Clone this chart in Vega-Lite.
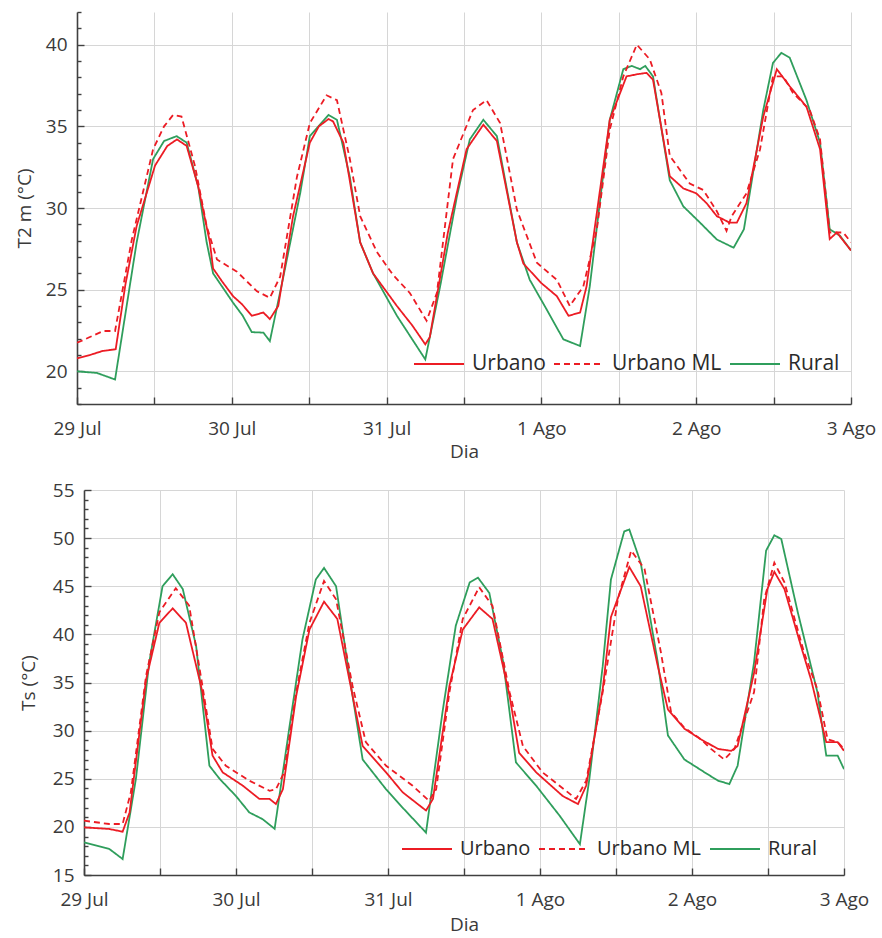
{
  "$schema": "https://vega.github.io/schema/vega-lite/v6.json",
  "background": "white",
  "padding": {"left": 9, "top": 3, "right": 2, "bottom": 0},
  "spacing": 20,
  "config": {
    "font": "Open Sans",
    "view": {"stroke": null},
    "axis": {
      "labelFont": "Open Sans",
      "titleFont": "Open Sans",
      "labelFontSize": 19,
      "titleFontSize": 19,
      "titleFontWeight": "normal",
      "labelColor": "#3a3a3a",
      "titleColor": "#3a3a3a",
      "domainColor": "#404040",
      "domainWidth": 1.6,
      "tickColor": "#404040",
      "tickWidth": 1.4,
      "gridColor": "#d6d6d6",
      "gridWidth": 1,
      "labelOverlap": false,
      "labelBound": false,
      "labelFlush": false
    },
    "legend": {
      "labelFont": "Open Sans",
      "labelFontSize": 21,
      "labelColor": "#2a2a2a",
      "symbolType": "stroke",
      "symbolSize": 2500,
      "symbolStrokeWidth": 2,
      "labelOffset": 7,
      "columnPadding": 4,
      "padding": 0
    }
  },
  "resolve": {
    "scale": {"color": "independent", "strokeDash": "independent"},
    "legend": {"color": "independent", "strokeDash": "independent"}
  },
  "datasets": {
    "t2m": [
      {"h":0,"serie":"Rural","v":20.0},{"h":3.1,"serie":"Rural","v":19.9},{"h":5.9,"serie":"Rural","v":19.5},{"h":9.25,"serie":"Rural","v":27.9},{"h":11.8,"serie":"Rural","v":33.0},{"h":13.5,"serie":"Rural","v":34.1},{"h":15.45,"serie":"Rural","v":34.4},{"h":17,"serie":"Rural","v":34.0},{"h":18.8,"serie":"Rural","v":31.3},{"h":20.1,"serie":"Rural","v":27.9},{"h":21.1,"serie":"Rural","v":26.0},{"h":24.2,"serie":"Rural","v":24.2},{"h":25.7,"serie":"Rural","v":23.4},{"h":27.1,"serie":"Rural","v":22.4},{"h":28.9,"serie":"Rural","v":22.37},{"h":29.9,"serie":"Rural","v":21.85},{"h":32.0,"serie":"Rural","v":25.8},{"h":34.6,"serie":"Rural","v":30.9},{"h":36.1,"serie":"Rural","v":34.4},{"h":39.0,"serie":"Rural","v":35.7},{"h":40.3,"serie":"Rural","v":35.4},{"h":42.3,"serie":"Rural","v":31.9},{"h":43.9,"serie":"Rural","v":27.9},{"h":45.9,"serie":"Rural","v":26.0},{"h":49.6,"serie":"Rural","v":23.4},{"h":54.0,"serie":"Rural","v":20.73},{"h":56.3,"serie":"Rural","v":25.2},{"h":58.9,"serie":"Rural","v":30.7},{"h":60.9,"serie":"Rural","v":34.2},{"h":63.0,"serie":"Rural","v":35.4},{"h":65.1,"serie":"Rural","v":34.4},{"h":68.2,"serie":"Rural","v":27.9},{"h":70.2,"serie":"Rural","v":25.6},{"h":72.8,"serie":"Rural","v":23.8},{"h":75.4,"serie":"Rural","v":21.96},{"h":78.0,"serie":"Rural","v":21.55},{"h":79.5,"serie":"Rural","v":25.2},{"h":82.6,"serie":"Rural","v":35.4},{"h":84.7,"serie":"Rural","v":38.5},{"h":86.0,"serie":"Rural","v":38.7},{"h":87.3,"serie":"Rural","v":38.5},{"h":88.1,"serie":"Rural","v":38.7},{"h":89.3,"serie":"Rural","v":38.06},{"h":91.9,"serie":"Rural","v":31.7},{"h":94.0,"serie":"Rural","v":30.1},{"h":96.6,"serie":"Rural","v":29.1},{"h":99.2,"serie":"Rural","v":28.07},{"h":101.8,"serie":"Rural","v":27.57},{"h":103.4,"serie":"Rural","v":28.7},{"h":106.4,"serie":"Rural","v":36.0},{"h":107.9,"serie":"Rural","v":38.88},{"h":109.2,"serie":"Rural","v":39.5},{"h":110.5,"serie":"Rural","v":39.2},{"h":113.1,"serie":"Rural","v":36.6},{"h":115.2,"serie":"Rural","v":34.0},{"h":116.7,"serie":"Rural","v":28.7},{"h":118.3,"serie":"Rural","v":28.3},{"h":120,"serie":"Rural","v":27.4},

      {"h":0,"serie":"Urbano","v":20.8},{"h":2,"serie":"Urbano","v":21.0},{"h":4,"serie":"Urbano","v":21.25},{"h":6,"serie":"Urbano","v":21.35},{"h":7.5,"serie":"Urbano","v":25.3},{"h":9.25,"serie":"Urbano","v":28.9},{"h":12.1,"serie":"Urbano","v":32.6},{"h":14,"serie":"Urbano","v":33.8},{"h":15.5,"serie":"Urbano","v":34.2},{"h":17,"serie":"Urbano","v":33.8},{"h":18.8,"serie":"Urbano","v":31.3},{"h":20.6,"serie":"Urbano","v":27.9},{"h":21.1,"serie":"Urbano","v":26.3},{"h":22.5,"serie":"Urbano","v":25.5},{"h":24.2,"serie":"Urbano","v":24.6},{"h":25.6,"serie":"Urbano","v":24.1},{"h":27.1,"serie":"Urbano","v":23.4},{"h":28.9,"serie":"Urbano","v":23.6},{"h":29.9,"serie":"Urbano","v":23.2},{"h":31.2,"serie":"Urbano","v":24.0},{"h":33.5,"serie":"Urbano","v":29.5},{"h":36.1,"serie":"Urbano","v":34.0},{"h":37.5,"serie":"Urbano","v":35.0},{"h":39.0,"serie":"Urbano","v":35.45},{"h":39.7,"serie":"Urbano","v":35.3},{"h":41.3,"serie":"Urbano","v":34.0},{"h":43.9,"serie":"Urbano","v":27.9},{"h":45.9,"serie":"Urbano","v":26.0},{"h":49.6,"serie":"Urbano","v":24.0},{"h":52,"serie":"Urbano","v":22.8},{"h":54,"serie":"Urbano","v":21.65},{"h":54.7,"serie":"Urbano","v":22.1},{"h":57.5,"serie":"Urbano","v":28.5},{"h":60.4,"serie":"Urbano","v":33.6},{"h":63,"serie":"Urbano","v":35.1},{"h":65.1,"serie":"Urbano","v":34.1},{"h":68.2,"serie":"Urbano","v":27.9},{"h":69.2,"serie":"Urbano","v":26.6},{"h":72,"serie":"Urbano","v":25.4},{"h":74.4,"serie":"Urbano","v":24.6},{"h":76.2,"serie":"Urbano","v":23.4},{"h":78,"serie":"Urbano","v":23.6},{"h":79,"serie":"Urbano","v":25.2},{"h":79.5,"serie":"Urbano","v":26.6},{"h":82.6,"serie":"Urbano","v":35.4},{"h":85.2,"serie":"Urbano","v":38.06},{"h":87,"serie":"Urbano","v":38.2},{"h":88.3,"serie":"Urbano","v":38.27},{"h":89.3,"serie":"Urbano","v":37.86},{"h":91.9,"serie":"Urbano","v":31.95},{"h":94,"serie":"Urbano","v":31.2},{"h":96,"serie":"Urbano","v":30.9},{"h":97.6,"serie":"Urbano","v":30.3},{"h":99.2,"serie":"Urbano","v":29.5},{"h":101.2,"serie":"Urbano","v":29.1},{"h":102.3,"serie":"Urbano","v":29.1},{"h":103.8,"serie":"Urbano","v":30.3},{"h":106.4,"serie":"Urbano","v":35.6},{"h":108.5,"serie":"Urbano","v":38.5},{"h":110.5,"serie":"Urbano","v":37.45},{"h":113.1,"serie":"Urbano","v":36.2},{"h":115.2,"serie":"Urbano","v":33.6},{"h":116.7,"serie":"Urbano","v":28.1},{"h":117.8,"serie":"Urbano","v":28.5},{"h":120,"serie":"Urbano","v":27.4},

      {"h":0,"serie":"Urbano ML","v":21.75},{"h":2,"serie":"Urbano ML","v":22.1},{"h":4.1,"serie":"Urbano ML","v":22.47},{"h":5.9,"serie":"Urbano ML","v":22.47},{"h":8.5,"serie":"Urbano ML","v":28.07},{"h":11.8,"serie":"Urbano ML","v":33.6},{"h":13.5,"serie":"Urbano ML","v":35.0},{"h":14.9,"serie":"Urbano ML","v":35.7},{"h":16.2,"serie":"Urbano ML","v":35.6},{"h":18.3,"serie":"Urbano ML","v":32.56},{"h":20.1,"serie":"Urbano ML","v":28.9},{"h":21.7,"serie":"Urbano ML","v":26.85},{"h":24.8,"serie":"Urbano ML","v":26.1},{"h":27.9,"serie":"Urbano ML","v":24.9},{"h":29.9,"serie":"Urbano ML","v":24.5},{"h":31.5,"serie":"Urbano ML","v":25.8},{"h":34.1,"serie":"Urbano ML","v":31.9},{"h":36.1,"serie":"Urbano ML","v":35.2},{"h":38.7,"serie":"Urbano ML","v":36.9},{"h":40.3,"serie":"Urbano ML","v":36.6},{"h":42.3,"serie":"Urbano ML","v":33.0},{"h":43.9,"serie":"Urbano ML","v":29.5},{"h":46.5,"serie":"Urbano ML","v":27.3},{"h":49,"serie":"Urbano ML","v":25.9},{"h":51.6,"serie":"Urbano ML","v":24.8},{"h":54.2,"serie":"Urbano ML","v":23.1},{"h":55.8,"serie":"Urbano ML","v":24.8},{"h":58.3,"serie":"Urbano ML","v":33.0},{"h":61.4,"serie":"Urbano ML","v":36.0},{"h":63.5,"serie":"Urbano ML","v":36.6},{"h":65.6,"serie":"Urbano ML","v":35.2},{"h":68.2,"serie":"Urbano ML","v":29.9},{"h":71.3,"serie":"Urbano ML","v":26.65},{"h":74.4,"serie":"Urbano ML","v":25.6},{"h":76.4,"serie":"Urbano ML","v":24.0},{"h":78.5,"serie":"Urbano ML","v":25.2},{"h":80.6,"serie":"Urbano ML","v":28.7},{"h":82.6,"serie":"Urbano ML","v":34.8},{"h":84.7,"serie":"Urbano ML","v":38.06},{"h":86.8,"serie":"Urbano ML","v":40.0},{"h":88.8,"serie":"Urbano ML","v":39.1},{"h":90.6,"serie":"Urbano ML","v":37.05},{"h":91.9,"serie":"Urbano ML","v":33.2},{"h":95,"serie":"Urbano ML","v":31.5},{"h":97.1,"serie":"Urbano ML","v":31.1},{"h":99.2,"serie":"Urbano ML","v":29.8},{"h":100.7,"serie":"Urbano ML","v":28.6},{"h":101.5,"serie":"Urbano ML","v":29.5},{"h":103.8,"serie":"Urbano ML","v":30.9},{"h":105.9,"serie":"Urbano ML","v":33.6},{"h":107.9,"serie":"Urbano ML","v":38.06},{"h":109.5,"serie":"Urbano ML","v":38.06},{"h":111,"serie":"Urbano ML","v":37.05},{"h":113.6,"serie":"Urbano ML","v":36.0},{"h":115.2,"serie":"Urbano ML","v":34.2},{"h":116.7,"serie":"Urbano ML","v":28.5},{"h":118.8,"serie":"Urbano ML","v":28.5},{"h":120,"serie":"Urbano ML","v":27.9}
    ],
    "ts": [
      {"h":0,"serie":"Rural","v":18.4},{"h":4,"serie":"Rural","v":17.7},{"h":6.1,"serie":"Rural","v":16.66},{"h":8.2,"serie":"Rural","v":25.0},{"h":10.3,"serie":"Rural","v":37.1},{"h":12.4,"serie":"Rural","v":45.0},{"h":14.0,"serie":"Rural","v":46.25},{"h":15.6,"serie":"Rural","v":44.7},{"h":17.7,"serie":"Rural","v":38.8},{"h":19.8,"serie":"Rural","v":26.35},{"h":21.4,"serie":"Rural","v":25.0},{"h":24.0,"serie":"Rural","v":23.2},{"h":26.1,"serie":"Rural","v":21.5},{"h":28.2,"serie":"Rural","v":20.8},{"h":30.1,"serie":"Rural","v":19.8},{"h":32.4,"serie":"Rural","v":30.2},{"h":34.5,"serie":"Rural","v":39.5},{"h":36.6,"serie":"Rural","v":45.7},{"h":37.9,"serie":"Rural","v":46.9},{"h":39.8,"serie":"Rural","v":45.0},{"h":41.9,"serie":"Rural","v":35.7},{"h":44.0,"serie":"Rural","v":27.0},{"h":47.7,"serie":"Rural","v":23.9},{"h":50.3,"serie":"Rural","v":22.0},{"h":54.0,"serie":"Rural","v":19.4},{"h":56.6,"serie":"Rural","v":31.9},{"h":58.7,"serie":"Rural","v":40.9},{"h":60.9,"serie":"Rural","v":45.4},{"h":62.2,"serie":"Rural","v":45.9},{"h":64.0,"serie":"Rural","v":44.3},{"h":66.2,"serie":"Rural","v":37.1},{"h":68.2,"serie":"Rural","v":26.7},{"h":71.4,"serie":"Rural","v":24.27},{"h":75.1,"serie":"Rural","v":21.16},{"h":78.3,"serie":"Rural","v":18.2},{"h":79.8,"serie":"Rural","v":25.0},{"h":81.9,"serie":"Rural","v":36.7},{"h":83.2,"serie":"Rural","v":45.7},{"h":85.3,"serie":"Rural","v":50.7},{"h":86.1,"serie":"Rural","v":50.9},{"h":87.9,"serie":"Rural","v":47.45},{"h":90.6,"serie":"Rural","v":37.1},{"h":92.2,"serie":"Rural","v":29.5},{"h":94.8,"serie":"Rural","v":27.0},{"h":98.0,"serie":"Rural","v":25.66},{"h":100.1,"serie":"Rural","v":24.8},{"h":101.9,"serie":"Rural","v":24.45},{"h":103.2,"serie":"Rural","v":26.35},{"h":105.8,"serie":"Rural","v":37.1},{"h":107.7,"serie":"Rural","v":48.7},{"h":109.0,"serie":"Rural","v":50.3},{"h":110.1,"serie":"Rural","v":49.9},{"h":112.7,"serie":"Rural","v":42.3},{"h":115.8,"serie":"Rural","v":34.0},{"h":117.2,"serie":"Rural","v":27.4},{"h":119,"serie":"Rural","v":27.4},{"h":120,"serie":"Rural","v":26.0},

      {"h":0,"serie":"Urbano","v":19.95},{"h":4,"serie":"Urbano","v":19.78},{"h":6.1,"serie":"Urbano","v":19.5},{"h":7.2,"serie":"Urbano","v":21.5},{"h":9.8,"serie":"Urbano","v":35.3},{"h":11.9,"serie":"Urbano","v":41.2},{"h":14.0,"serie":"Urbano","v":42.7},{"h":16.1,"serie":"Urbano","v":41.2},{"h":18.7,"serie":"Urbano","v":34.0},{"h":20.3,"serie":"Urbano","v":27.4},{"h":21.9,"serie":"Urbano","v":25.66},{"h":25.1,"serie":"Urbano","v":24.27},{"h":27.7,"serie":"Urbano","v":22.9},{"h":29.3,"serie":"Urbano","v":22.9},{"h":30.3,"serie":"Urbano","v":22.37},{"h":31.4,"serie":"Urbano","v":23.9},{"h":33.5,"serie":"Urbano","v":33.6},{"h":35.6,"serie":"Urbano","v":40.5},{"h":37.9,"serie":"Urbano","v":43.4},{"h":40.0,"serie":"Urbano","v":41.6},{"h":41.9,"serie":"Urbano","v":35.3},{"h":44.0,"serie":"Urbano","v":28.4},{"h":47.7,"serie":"Urbano","v":25.66},{"h":50.3,"serie":"Urbano","v":23.6},{"h":54.0,"serie":"Urbano","v":21.7},{"h":55.1,"serie":"Urbano","v":22.9},{"h":57.7,"serie":"Urbano","v":34.65},{"h":59.8,"serie":"Urbano","v":40.5},{"h":62.4,"serie":"Urbano","v":42.8},{"h":64.5,"serie":"Urbano","v":41.6},{"h":67.2,"serie":"Urbano","v":33.6},{"h":68.7,"serie":"Urbano","v":27.7},{"h":71.4,"serie":"Urbano","v":25.66},{"h":75.6,"serie":"Urbano","v":23.2},{"h":78.0,"serie":"Urbano","v":22.37},{"h":79.3,"serie":"Urbano","v":24.3},{"h":81.9,"serie":"Urbano","v":34.3},{"h":83.2,"serie":"Urbano","v":41.8},{"h":86.1,"serie":"Urbano","v":47.0},{"h":87.9,"serie":"Urbano","v":45.0},{"h":90.6,"serie":"Urbano","v":36.7},{"h":92.2,"serie":"Urbano","v":32.2},{"h":94.8,"serie":"Urbano","v":30.2},{"h":97.4,"serie":"Urbano","v":29.1},{"h":100.1,"serie":"Urbano","v":28.1},{"h":102.2,"serie":"Urbano","v":27.9},{"h":103.2,"serie":"Urbano","v":28.4},{"h":105.8,"serie":"Urbano","v":36.0},{"h":107.9,"serie":"Urbano","v":44.7},{"h":109.0,"serie":"Urbano","v":46.5},{"h":110.6,"serie":"Urbano","v":44.7},{"h":113.2,"serie":"Urbano","v":38.8},{"h":114.8,"serie":"Urbano","v":35.3},{"h":117.2,"serie":"Urbano","v":28.8},{"h":119,"serie":"Urbano","v":28.8},{"h":120,"serie":"Urbano","v":27.9},

      {"h":0,"serie":"Urbano ML","v":20.64},{"h":4,"serie":"Urbano ML","v":20.3},{"h":6.1,"serie":"Urbano ML","v":20.3},{"h":7.4,"serie":"Urbano ML","v":23.6},{"h":9.8,"serie":"Urbano ML","v":35.7},{"h":11.9,"serie":"Urbano ML","v":42.3},{"h":14.5,"serie":"Urbano ML","v":44.8},{"h":16.6,"serie":"Urbano ML","v":43.0},{"h":18.7,"serie":"Urbano ML","v":34.65},{"h":20.3,"serie":"Urbano ML","v":28.1},{"h":22.4,"serie":"Urbano ML","v":26.35},{"h":26.1,"serie":"Urbano ML","v":24.8},{"h":29.3,"serie":"Urbano ML","v":23.75},{"h":30.3,"serie":"Urbano ML","v":23.9},{"h":31.6,"serie":"Urbano ML","v":25.66},{"h":33.5,"serie":"Urbano ML","v":34.0},{"h":35.6,"serie":"Urbano ML","v":41.2},{"h":37.9,"serie":"Urbano ML","v":45.55},{"h":39.8,"serie":"Urbano ML","v":43.65},{"h":42.4,"serie":"Urbano ML","v":34.65},{"h":44.5,"serie":"Urbano ML","v":28.8},{"h":47.7,"serie":"Urbano ML","v":26.35},{"h":51.9,"serie":"Urbano ML","v":24.27},{"h":54.5,"serie":"Urbano ML","v":22.7},{"h":55.6,"serie":"Urbano ML","v":23.9},{"h":57.7,"serie":"Urbano ML","v":34.0},{"h":59.8,"serie":"Urbano ML","v":41.6},{"h":62.4,"serie":"Urbano ML","v":44.9},{"h":64.5,"serie":"Urbano ML","v":42.96},{"h":67.2,"serie":"Urbano ML","v":34.0},{"h":69.3,"serie":"Urbano ML","v":28.4},{"h":72.4,"serie":"Urbano ML","v":25.66},{"h":76.1,"serie":"Urbano ML","v":23.75},{"h":77.7,"serie":"Urbano ML","v":22.9},{"h":79.3,"serie":"Urbano ML","v":24.8},{"h":81.9,"serie":"Urbano ML","v":34.0},{"h":84.3,"serie":"Urbano ML","v":43.65},{"h":86.4,"serie":"Urbano ML","v":48.7},{"h":88.5,"serie":"Urbano ML","v":46.8},{"h":91.1,"serie":"Urbano ML","v":38.1},{"h":92.7,"serie":"Urbano ML","v":31.9},{"h":94.8,"serie":"Urbano ML","v":30.3},{"h":97.4,"serie":"Urbano ML","v":29.1},{"h":99.0,"serie":"Urbano ML","v":28.1},{"h":101.1,"serie":"Urbano ML","v":27.0},{"h":102.7,"serie":"Urbano ML","v":28.1},{"h":105.8,"serie":"Urbano ML","v":34.0},{"h":107.4,"serie":"Urbano ML","v":43.65},{"h":109.0,"serie":"Urbano ML","v":47.45},{"h":110.6,"serie":"Urbano ML","v":45.4},{"h":113.7,"serie":"Urbano ML","v":38.1},{"h":115.8,"serie":"Urbano ML","v":34.3},{"h":117.4,"serie":"Urbano ML","v":29.1},{"h":119,"serie":"Urbano ML","v":28.8},{"h":120,"serie":"Urbano ML","v":28.1}
    ]
  },
  "vconcat": [
    {
      "spacing": 0,
      "hconcat": [
        {
          "width": 2,
          "height": 392,
          "data": {"name": "t2m"},
          "mark": {"type": "point", "opacity": 0},
          "encoding": {}
        },
        {
          "width": 774,
          "height": 392,
          "data": {"name": "t2m"},
          "mark": {"type": "line", "strokeWidth": 1.8, "clip": true},
          "encoding": {
            "x": {
              "field": "h", "type": "quantitative",
              "scale": {"domain": [0, 120], "nice": false, "zero": false},
              "axis": {
                "values": [0, 12, 24, 36, 48, 60, 72, 84, 96, 108, 120],
                "labelExpr": "['29 Jul','','30 Jul','','31 Jul','','1 Ago','','2 Ago','','3 Ago'][round(datum.value/12)]",
                "tickSize": -7, "labelPadding": 22, "title": "Dia", "titlePadding": 4, "grid": true
              }
            },
            "y": {
              "field": "v", "type": "quantitative",
              "scale": {"domain": [18, 42], "nice": false, "zero": false},
              "axis": {
                "values": [18,19,20,21,22,23,24,25,26,27,28,29,30,31,32,33,34,35,36,37,38,39,40,41,42],
                "labelExpr": "datum.value % 5 === 0 ? datum.label : ''",
                "tickSize": {"condition": {"test": "datum.value % 5 === 0", "value": -7}, "value": -4},
                "gridOpacity": {"condition": {"test": "datum.value % 5 === 0", "value": 1}, "value": 0},
                "labelPadding": 17, "title": "T2 m (°C)", "titlePadding": 11, "grid": true
              }
            },
            "color": {
              "field": "serie", "type": "nominal",
              "scale": {"domain": ["Urbano", "Urbano ML", "Rural"], "range": ["#ec1c24", "#ec1c24", "#2f9e5c"]},
              "legend": {"title": null, "orient": "none", "direction": "horizontal", "legendX": 402, "legendY": 326}
            },
            "strokeDash": {
              "field": "serie", "type": "nominal",
              "scale": {"domain": ["Urbano", "Urbano ML", "Rural"], "range": [[1, 0], [6, 4], [1, 0]]},
              "legend": {"title": null, "orient": "none", "direction": "horizontal", "legendX": 402, "legendY": 326}
            }
          }
        }
      ]
    },
    {
      "spacing": 0,
      "hconcat": [
        {
          "width": 8,
          "height": 385,
          "data": {"name": "ts"},
          "mark": {"type": "point", "opacity": 0},
          "encoding": {}
        },
        {
          "width": 760,
          "height": 385,
          "data": {"name": "ts"},
          "mark": {"type": "line", "strokeWidth": 1.8, "clip": true},
          "encoding": {
            "x": {
              "field": "h", "type": "quantitative",
              "scale": {"domain": [0, 120], "nice": false, "zero": false},
              "axis": {
                "values": [0, 12, 24, 36, 48, 60, 72, 84, 96, 108, 120],
                "labelExpr": "['29 Jul','','30 Jul','','31 Jul','','1 Ago','','2 Ago','','3 Ago'][round(datum.value/12)]",
                "tickSize": -7, "labelPadding": 22, "title": "Dia", "titlePadding": 6, "grid": true
              }
            },
            "y": {
              "field": "v", "type": "quantitative",
              "scale": {"domain": [15, 55], "nice": false, "zero": false},
              "axis": {
                "values": [15,16,17,18,19,20,21,22,23,24,25,26,27,28,29,30,31,32,33,34,35,36,37,38,39,40,41,42,43,44,45,46,47,48,49,50,51,52,53,54,55],
                "labelExpr": "datum.value % 5 === 0 ? datum.label : ''",
                "tickSize": {"condition": {"test": "datum.value % 5 === 0", "value": -7}, "value": -4},
                "gridOpacity": {"condition": {"test": "datum.value % 5 === 0", "value": 1}, "value": 0},
                "labelPadding": 17, "title": "Ts (°C)", "titlePadding": 14, "grid": true
              }
            },
            "color": {
              "field": "serie", "type": "nominal",
              "scale": {"domain": ["Urbano", "Urbano ML", "Rural"], "range": ["#ec1c24", "#ec1c24", "#2f9e5c"]},
              "legend": {"title": null, "orient": "none", "direction": "horizontal", "legendX": 390, "legendY": 333, "labelFontSize": 20}
            },
            "strokeDash": {
              "field": "serie", "type": "nominal",
              "scale": {"domain": ["Urbano", "Urbano ML", "Rural"], "range": [[1, 0], [6, 4], [1, 0]]},
              "legend": {"title": null, "orient": "none", "direction": "horizontal", "legendX": 390, "legendY": 333, "labelFontSize": 20}
            }
          }
        }
      ]
    }
  ]
}
